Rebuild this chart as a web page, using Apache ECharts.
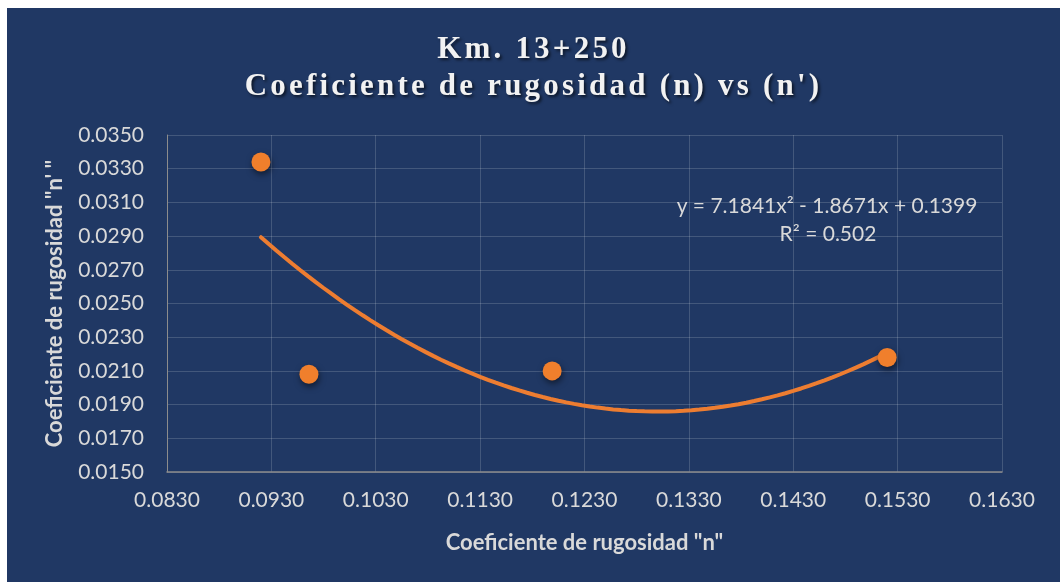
<!DOCTYPE html>
<html>
<head>
<meta charset="utf-8">
<script src="https://cdn.jsdelivr.net/npm/echarts@6/dist/echarts.min.js"></script>
<style>
  html, body { margin: 0; padding: 0; background: #ffffff; }
  #wrap {
    position: absolute; left: 7px; top: 8px; width: 1053px; height: 574px;
    background: #203864;
  }
  #chart { position: absolute; left: 0; top: 0; width: 1053px; height: 574px; }
  .title {
    position: absolute; left: 0; width: 1053px; text-align: center;
    font-family: "Liberation Serif", serif; font-weight: bold; color: #f2f2f2;
    font-size: 31px; letter-spacing: 3.2px; line-height: 36px;
    text-shadow: 2px 2px 3px rgba(0, 0, 0, 0.6);
  }
</style>
</head>
<body>
<div id="wrap">
  <div id="chart"></div>
  <div class="title" style="top: 22px;">Km. 13+250</div>
  <div class="title" style="top: 59px;">Coeficiente de rugosidad (n) vs (n')</div>
</div>
<script>
// valores
const nValues = [0.0920, 0.0966, 0.1199, 0.1520];
const nPrimeValues = [0.0334, 0.0208, 0.0210, 0.0218];
// línea de tendencia polinómica (y = a x^2 + b x + c)
const trendCoef = [7.1841, -1.8671, 0.1399];
const trendLabel = ["y = 7.1841x\u00b2 - 1.8671x + 0.1399", "R\u00b2 = 0.502"];

const xTicks = { min: 0.083, max: 0.163, step: 0.01 };
const yTicks = { min: 0.015, max: 0.035, step: 0.002 };

const points = nValues.map((x, i) => [x, nPrimeValues[i]]);

const xLo = Math.min(...nValues);
const xHi = Math.max(...nValues);
const trend = [];
for (let i = 0; i <= 80; i++) {
  const x = xLo + (xHi - xLo) * i / 80;
  trend.push([x, trendCoef[0] * x * x + trendCoef[1] * x + trendCoef[2]]);
}

const labelColor = "#d9d9d9";
const font = "Lato, 'Open Sans', sans-serif";

const chart = echarts.init(document.getElementById("chart"));
chart.setOption({
  animation: false,
  grid: { left: 160, right: 58, top: 127, bottom: 110 },
  xAxis: {
    type: "value",
    min: xTicks.min,
    max: xTicks.max,
    interval: xTicks.step,
    name: 'Coeficiente de rugosidad "n"',
    nameLocation: "middle",
    nameGap: 60,
    nameTextStyle: { color: labelColor, fontSize: 22, fontWeight: "bold", fontFamily: font },
    axisLine: { lineStyle: { color: "#8c8c8c", width: 1.5 } },
    axisTick: { show: false },
    axisLabel: {
      color: labelColor, fontSize: 21, fontFamily: font, margin: 18,
      formatter: (v) => v.toFixed(4)
    },
    splitLine: { lineStyle: { color: "rgba(255,255,255,0.16)", width: 1 } }
  },
  yAxis: {
    type: "value",
    min: yTicks.min,
    max: yTicks.max,
    interval: yTicks.step,
    name: "Coeficiente de rugosidad \"n' \"",
    nameLocation: "middle",
    nameGap: 101,
    nameTextStyle: { color: labelColor, fontSize: 22, fontWeight: "bold", fontFamily: font },
    axisLine: { show: true, lineStyle: { color: "#8c8c8c", width: 1 } },
    axisTick: { show: false },
    axisLabel: {
      color: labelColor, fontSize: 21, fontFamily: font, margin: 23,
      formatter: (v) => v.toFixed(4)
    },
    splitLine: { lineStyle: { color: "rgba(255,255,255,0.16)", width: 1 } }
  },
  graphic: [
    {
      type: "text", x: 820, y: 198,
      style: {
        text: trendLabel[0], fill: labelColor, fontSize: 21, fontFamily: font,
        textAlign: "center", textVerticalAlign: "middle"
      }
    },
    {
      type: "text", x: 821, y: 226,
      style: {
        text: trendLabel[1], fill: labelColor, fontSize: 21, fontFamily: font,
        textAlign: "center", textVerticalAlign: "middle"
      }
    }
  ],
  series: [
    {
      name: "Tendencia",
      type: "line",
      data: trend,
      showSymbol: false,
      smooth: false,
      z: 2,
      lineStyle: { color: "#ed7d31", width: 4, cap: "round" }
    },
    {
      name: "n vs n'",
      type: "scatter",
      data: points,
      symbolSize: 19,
      z: 3,
      itemStyle: {
        color: "#f07f2c",
        opacity: 1,
        shadowBlur: 6,
        shadowColor: "rgba(0,0,0,0.5)",
        shadowOffsetX: 1,
        shadowOffsetY: 3
      }
    }
  ]
});
</script>
</body>
</html>
